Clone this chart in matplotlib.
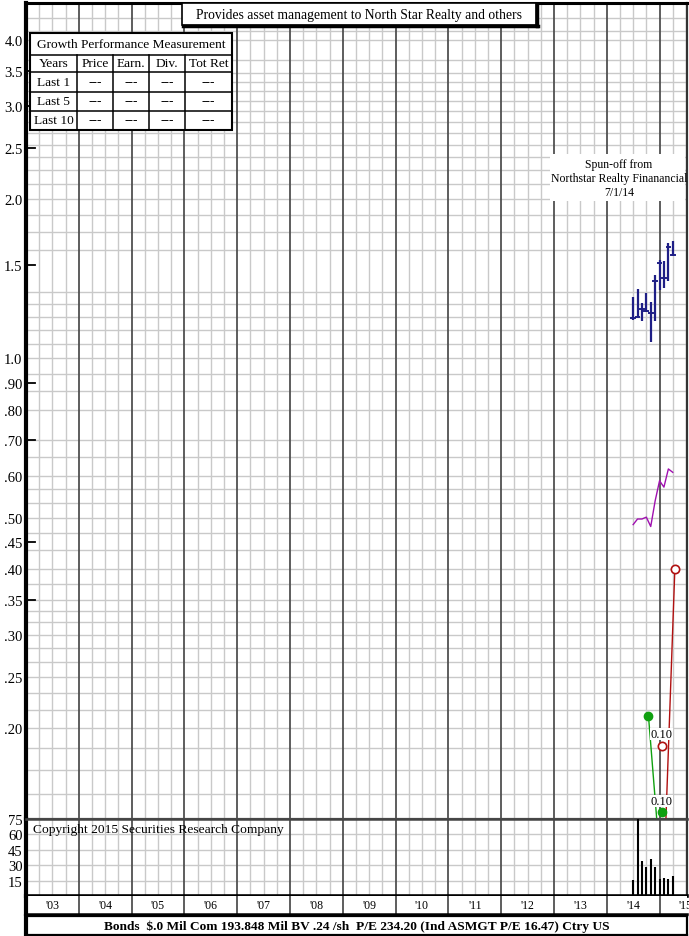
import numpy as np
import matplotlib
matplotlib.use('Agg')
import matplotlib.pyplot as plt
import matplotlib.transforms as mtransforms
from matplotlib.patches import Rectangle
from matplotlib.ticker import NullLocator

plt.rcParams['font.family'] = ['Liberation Serif', 'DejaVu Serif']

# ---------------- data ----------------
# monthly price bars (Jul 2014 .. Apr 2015), x in fractional years
bar_x = [2014.500, 2014.583, 2014.667, 2014.750, 2014.833,
         2014.917, 2015.000, 2015.083, 2015.167, 2015.250]
bar_high = [1.306, 1.354, 1.272, 1.330, 1.277, 1.438, 1.535, 1.527, 1.653, 1.666]
bar_low = [1.183, 1.197, 1.179, 1.222, 1.073, 1.179, 1.349, 1.359, 1.403, 1.565]
bar_close = [1.190, 1.200, 1.241, 1.231, 1.217, 1.403, 1.514, 1.418, 1.627, 1.570]

# relative strength line (magenta)
rel_strength = [0.485, 0.497, 0.497, 0.501, 0.481, 0.538, 0.587, 0.571, 0.618, 0.609]

# monthly volume
volume = [15.9, 85.0, 34.4, 28.5, 36.0, 27.9, 16.6, 17.8, 16.6, 19.8]

# earnings (green) and dividends (red)
earn_x = [2014.79, 2015.04]
earn_y = [0.211, 0.103]
div_x = [2015.04, 2015.29]
div_y = [0.080, 0.400]
earn_mark_x, earn_mark_y, earn_label = 2015.04, 0.1385, "0.10"
div_mark_x, div_mark_y, div_label = 2015.04, 0.185, "0.10"

# axes text
price_ticks = [4.0, 3.5, 3.0, 2.5, 2.0, 1.5, 1.0, 0.9, 0.8, 0.7, 0.6, 0.5,
               0.45, 0.40, 0.35, 0.30, 0.25, 0.20]
price_tick_labels = ['4.0', '3.5', '3.0', '2.5', '2.0', '1.5', '1.0', '.90', '.80',
                     '.70', '.60', '.50', '.45', '.40', '.35', '.30', '.25', '.20']
black_ticks = [3.5, 3.0, 2.5, 1.5, 0.9, 0.7, 0.45, 0.35]
grid_levels = [0.15, 0.1667, 0.1833, 0.20, 0.2167, 0.2333, 0.25, 0.2667, 0.2833,
               0.30, 0.3167, 0.3333, 0.35, 0.375, 0.40, 0.4333, 0.4667, 0.50,
               0.5333, 0.5667, 0.60, 0.65, 0.70, 0.80, 0.8667, 0.9333, 1.0,
               1.0667, 1.1333, 1.2, 1.2667, 1.3333, 1.6, 1.7333, 1.8667, 2.0,
               2.1333, 2.2667, 2.4, 2.5333, 2.6667, 2.8, 2.9333, 3.0667, 3.2,
               3.3333, 3.4667, 3.6667, 4.0, 4.1667, 4.4]
vol_ticks = [15, 30, 45, 60, 75]
vol_tick_labels = ['15', '30', '45', '60', '75']
year_starts = list(range(2003, 2016))
year_labels = ["'03", "'04", "'05", "'06", "'07", "'08", "'09", "'10", "'11",
               "'12", "'13", "'14", "'15"]

title_text = "Provides asset management to North Star Realty and others"
note_lines = ["Spun-off from", "Northstar Realty Finanancial", "7/1/14"]
copyright_text = "Copyright 2015 Securities Research Company"
bottom_text = ("Bonds  $.0 Mil Com 193.848 Mil BV .24 /sh  P/E 234.20 "
               "(Ind ASMGT P/E 16.47) Ctry US")
table_title = "Growth Performance Measurement"
table_header = ["Years", "Price", "Earn.", "Div.", "Tot Ret"]
table_rows = [["Last 1", "---", "---", "---", "---"],
              ["Last 5", "---", "---", "---", "---"],
              ["Last 10", "---", "---", "---", "---"]]

# ---------------- layout ----------------
W, H = 689, 937
fig = plt.figure(figsize=(W / 100, H / 100), dpi=100)
fig.patch.set_facecolor('white')


def rect(l, t, r, b):
    return [l / W, 1 - b / H, (r - l) / W, (b - t) / H]


X0, X1 = 2003.0, 2015.52
LIGHT = '#c9c9c9'
DARK = '#505050'
NAVY = '#1f1f86'


def vgrid(a, quarters=True):
    q = X0
    while q < X1:
        if abs(q - round(q)) < 1e-6:
            if q > X0 + 1e-6:
                a.axvline(q, color=DARK, lw=1.3, zorder=1)
        elif quarters:
            a.axvline(q, color=LIGHT, lw=1.0, zorder=0.5)
        q += 0.25


# price panel
ax = fig.add_axes(rect(26, 4, 687, 820))
ax.set_yscale('log')
ax.set_ylim(0.1346, 4.70)
ax.set_xlim(X0, X1)
ax.yaxis.set_minor_locator(NullLocator())
ax.set_yticks(price_ticks)
ax.set_yticklabels(price_tick_labels)
ax.tick_params(axis='y', length=0, pad=2.5, labelsize=10.5)
ax.set_xticks([])
ax.hlines(grid_levels, X0, X1, color=LIGHT, lw=1.0, zorder=0.5)
vgrid(ax)
trans = mtransforms.blended_transform_factory(ax.transAxes, ax.transData)
for v in black_ticks:
    ax.plot([0, 0.013], [v, v], transform=trans, color='black', lw=1.3, zorder=3)
for side, lw, c in [('left', 3.0, 'black'), ('top', 2.2, 'black'),
                    ('right', 1.6, '#333333'), ('bottom', 1.6, '#555555')]:
    ax.spines[side].set_linewidth(lw)
    ax.spines[side].set_color(c)

ax.vlines(bar_x, bar_low, bar_high, color=NAVY, lw=1.6, zorder=4)
for x, c in zip(bar_x, bar_close):
    ax.plot([x - 0.035, x + 0.035], [c, c], color=NAVY, lw=1.4, zorder=4)
ax.plot(bar_x, rel_strength, color='#a010b0', lw=1.0, zorder=4)

ax.plot(earn_x, earn_y, color='#10a010', lw=1.0, zorder=4)
ax.plot(earn_x[0], earn_y[0], 'o', color='#10a010', ms=6, zorder=5)
ax.plot(earn_mark_x, earn_mark_y, 'o', color='#10a010', ms=6, zorder=5)
ax.text(earn_mark_x, 0.1455, earn_label, ha='center', va='center', fontsize=9,
        zorder=6, bbox=dict(fc='white', ec='none', pad=0.2))
ax.plot(div_x, div_y, color='#b01010', lw=1.0, zorder=4)
ax.plot(div_x[1], div_y[1], 'o', mfc='white', mec='#b01010', mew=1.2, ms=6, zorder=5)
ax.plot(div_mark_x, div_mark_y, 'o', mfc='white', mec='#b01010', mew=1.2, ms=6, zorder=5)
ax.text(div_mark_x, 0.195, div_label, ha='center', va='center', fontsize=9,
        zorder=6, bbox=dict(fc='white', ec='none', pad=0.2))

# volume panel
av = fig.add_axes(rect(26, 820, 687, 897))
av.set_xlim(X0, X1)
av.set_ylim(0, 75)
av.set_yticks(vol_ticks)
av.set_yticklabels(vol_tick_labels)
av.tick_params(axis='y', length=0, pad=2.5, labelsize=10.5)
av.set_xticks([])
av.hlines(vol_ticks[:-1], X0, X1, color=LIGHT, lw=1.0, zorder=0.5)
vgrid(av)
av.vlines(bar_x, 0, volume, color='black', lw=1.5, zorder=4)
for side, lw, c in [('left', 3.0, 'black'), ('top', 1.8, '#444444'),
                    ('right', 1.6, '#333333'), ('bottom', 2.6, 'black')]:
    av.spines[side].set_linewidth(lw)
    av.spines[side].set_color(c)
av.text(0.011, 0.87, copyright_text, transform=av.transAxes, ha='left',
        va='center', fontsize=9.7, zorder=6)

# year label row
ay = fig.add_axes(rect(26, 897, 687, 915))
ay.set_xlim(X0, X1)
ay.set_ylim(0, 1)
ay.set_xticks([])
ay.set_yticks([])
vgrid(ay, quarters=False)
for yr, lab in zip(year_starts, year_labels):
    ay.text(yr + 0.5, 0.5, lab, ha='center', va='center', fontsize=8.5)
for side, lw in [('left', 3.0), ('top', 0.0), ('right', 0.0), ('bottom', 1.8)]:
    ay.spines[side].set_linewidth(lw)
    ay.spines[side].set_color('black')

# bottom info box
ab = fig.add_axes(rect(26, 917, 687, 936))
ab.set_xticks([])
ab.set_yticks([])
for side, lw in [('left', 3.0), ('top', 1.6), ('right', 1.6), ('bottom', 1.6)]:
    ab.spines[side].set_linewidth(lw)
    ab.spines[side].set_color('black')
ab.text(0.5, 0.5, bottom_text, ha='center', va='center', fontsize=9.6,
        fontweight='bold', transform=ab.transAxes)

# overlay for boxes
ov = fig.add_axes([0, 0, 1, 1])
ov.set_xlim(0, W)
ov.set_ylim(H, 0)
ov.axis('off')
ov.set_zorder(10)
ov.patch.set_alpha(0)

# title box
ov.add_patch(Rectangle((182, 4), 354, 22, fc='white', ec='black', lw=1.2))
ov.plot([537, 537], [5, 27], color='black', lw=2.5)
ov.plot([183, 538], [26.5, 26.5], color='black', lw=2.5)
ov.text(359, 15.5, title_text, ha='center', va='center', fontsize=9.8)

# spun-off note
ov.add_patch(Rectangle((550, 155), 135, 47, fc='white', ec='none'))
for yy, line in zip([165, 179, 193], note_lines):
    ov.text(619, yy, line, ha='center', va='center', fontsize=8.5)

# growth table
tl, tr = 30, 231.7
row_edges = [34.3, 56, 72.7, 92.7, 111.7, 131]
col_edges = [30, 77.3, 113.3, 149, 185, 231.7]
ov.add_patch(Rectangle((tl, row_edges[0]), tr - tl, row_edges[-1] - row_edges[0],
                       fc='white', ec='black', lw=1.5))
for yy in row_edges[1:-1]:
    ov.plot([tl, tr], [yy, yy], color='black', lw=1.1)
for xx in col_edges[1:-1]:
    ov.plot([xx, xx], [row_edges[1], row_edges[-1]], color='black', lw=1.1)
ov.text((tl + tr) / 2, (row_edges[0] + row_edges[1]) / 2, table_title,
        ha='center', va='center', fontsize=9.6)
rows = [table_header] + table_rows
for r, row in enumerate(rows):
    yc = (row_edges[r + 1] + row_edges[r + 2]) / 2
    for c, cell in enumerate(row):
        xc = (col_edges[c] + col_edges[c + 1]) / 2
        ov.text(xc, yc, cell, ha='center', va='center', fontsize=9.6)

fig.savefig('out.png', dpi=100)
